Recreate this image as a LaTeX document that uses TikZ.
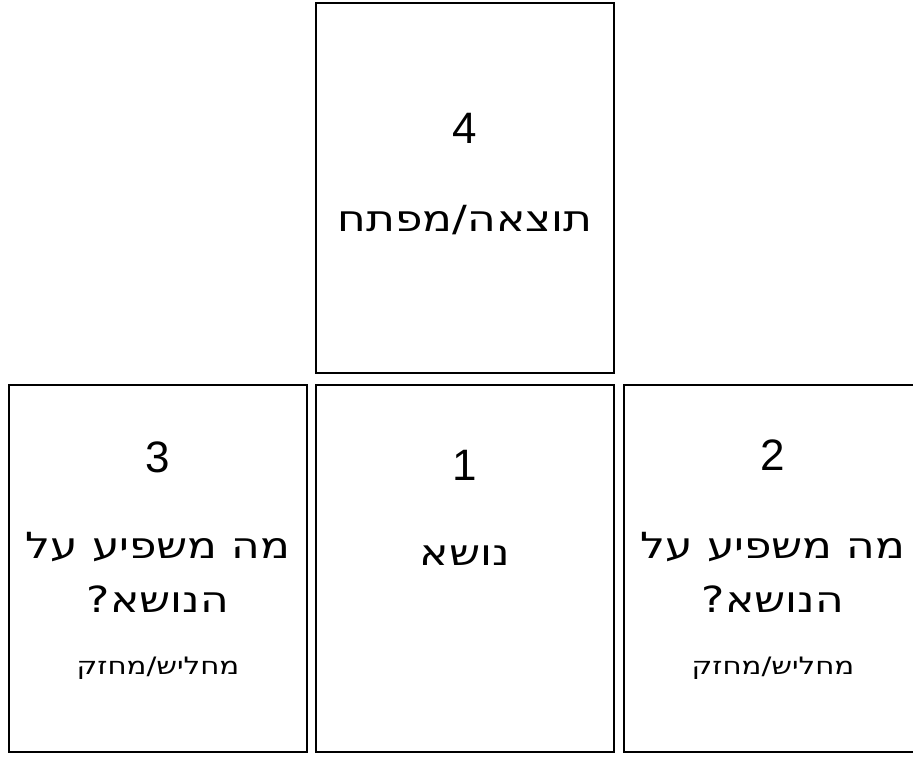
\documentclass[tikz,border=0pt]{standalone}
\usepackage{fontspec}
\setmainfont{Liberation Sans}
\newfontfamily\hebfont[Script=Hebrew, FakeStretch=1.22]{DejaVu Sans}
\TeXXeTstate=1

\tikzset{card/.style={draw, line width=1.6pt, inner sep=0pt, minimum width=298pt, minimum height=#1},
  num/.style={font=\fontsize{44}{44}\selectfont, inner sep=0pt},
  big/.style={font=\hebfont\fontsize{36}{54}\selectfont, align=center, inner sep=0pt},
  small/.style={font=\hebfont\fontsize{24}{30}\selectfont, inner sep=0pt}}

\begin{document}
\begin{tikzpicture}[x=1pt, y=-1pt]
            \useasboundingbox (0,0) rectangle (913,758);
            % Les cartes
            \node[card=370pt] (card4) at (465,188) {};
            \node[card=367pt] (card3) at (158,568.5) {};
            \node[card=367pt] (card1) at (465,568.5) {};
            \node[card=367pt] (card2) at (773,568.5) {}; % coupée à droite

            % Carte 4
            \node[num] (n4) at (465,128) {4};
            \node[big] (t4) at (465,220) {\beginR תוצאה/מפתח\endR};

            % Carte 1
            \node[num] (n1) at (465,465) {1};
            \node[big] (t1) at (465,556) {\beginR נושא\endR};

            % Cartes 3 et 2
            \node[num] (n3) at (158,457) {3};
            \node[big] (t3) at (158,572) {\beginR מה משפיע על\endR\\\beginR הנושא?\endR};
            \node[small] (s3) at (158,668) {\beginR מחליש/מחזק\endR};

            \node[num] (n2) at (773,455) {2};
            \node[big] (t2) at (773,572) {\beginR מה משפיע על\endR\\\beginR הנושא?\endR};
            \node[small] (s2) at (773,668) {\beginR מחליש/מחזק\endR};
        \end{tikzpicture}
\end{document}
